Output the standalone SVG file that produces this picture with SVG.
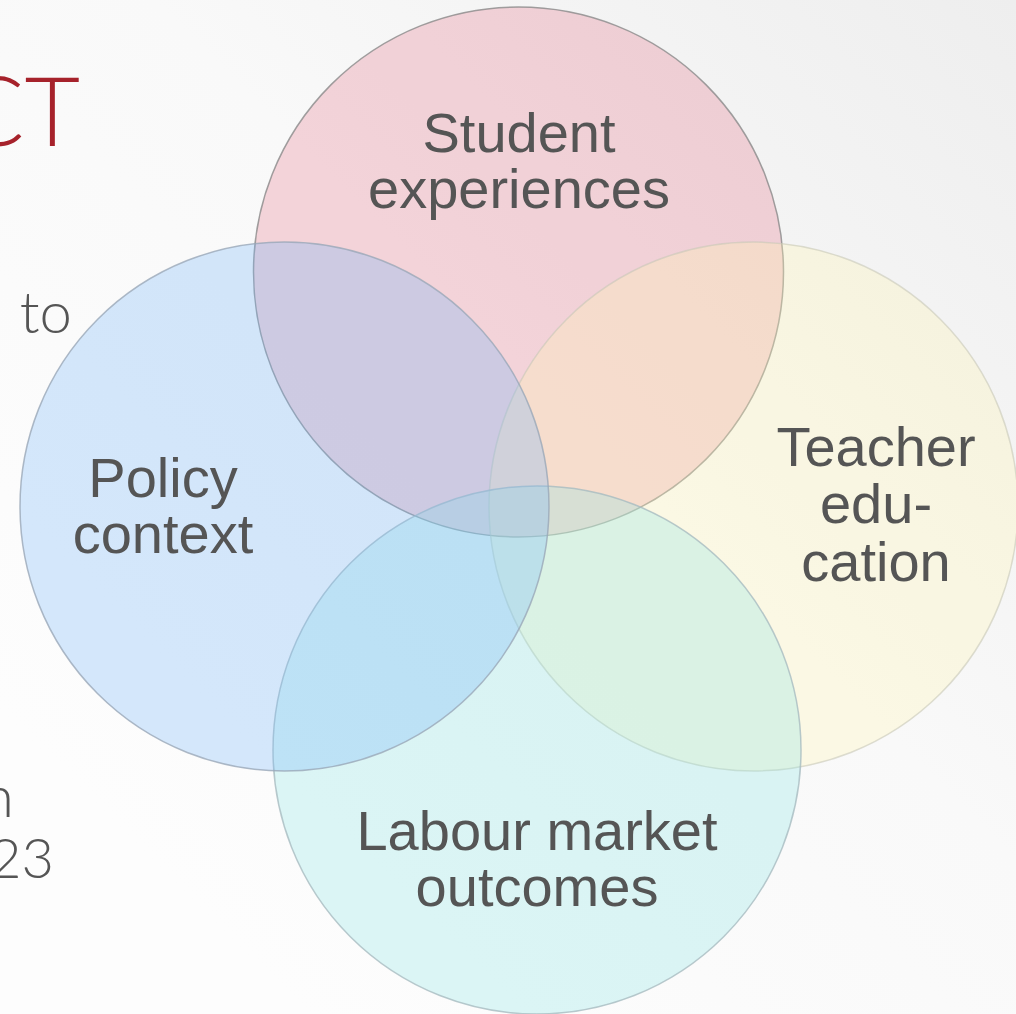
<svg xmlns="http://www.w3.org/2000/svg" width="1016" height="1014" viewBox="0 0 1016 1014">
<defs>
<linearGradient id="bg" x1="0.15" y1="0.85" x2="1" y2="0">
<stop offset="0" stop-color="#fdfdfd"/>
<stop offset="0.5" stop-color="#f9f9f9"/>
<stop offset="1" stop-color="#eeeeee"/>
</linearGradient>
<style>
.lbl{font-family:"Liberation Sans",Arial,sans-serif;font-size:56px;fill:#555555;text-anchor:middle}
.side{font-family:"Lato","Liberation Sans",sans-serif;font-weight:300;fill:#555555;text-anchor:end}
.c{stroke-width:1.5;fill-opacity:0.3}
</style>
</defs>
<rect width="1016" height="1014" fill="url(#bg)"/>
<text x="80" y="146" class="side" style="fill:#a6222b;font-size:96px">CT</text>
<text x="72" y="333" class="side" style="font-size:58px">to</text>
<text x="14" y="817" class="side" style="font-size:58px">n</text>
<text x="54" y="878" class="side" style="font-size:56px">23</text>
<g id="pink"><circle class="c" cx="518.5" cy="272" r="265" fill="#e47a8e" stroke="#8a8a8a" stroke-opacity="0.8"/></g>
<g id="yellow"><circle class="c" cx="753.5" cy="506.5" r="264.5" fill="#fff6b4" stroke="#c8c8b8" stroke-opacity="0.6"/></g>
<g id="cyan"><circle class="c" cx="537" cy="750" r="264" fill="#8fe3e6" stroke="#a8bcc0" stroke-opacity="0.8"/></g>
<g id="blue"><circle class="c" cx="284.5" cy="506.5" r="264.5" fill="#78b7fa" stroke="#9aa8b8" stroke-opacity="0.8"/></g>
<g id="labels">
<text class="lbl" x="519" y="152">Student</text>
<text class="lbl" x="519" y="208">experiences</text>
<text class="lbl" x="163" y="497">Policy</text>
<text class="lbl" x="163" y="553">context</text>
<text class="lbl" x="876" y="466">Teacher</text>
<text class="lbl" x="876" y="523">edu-</text>
<text class="lbl" x="876" y="581">cation</text>
<text class="lbl" x="537" y="850">Labour market</text>
<text class="lbl" x="537" y="906">outcomes</text>
</g>
<g id="connectors"/>
</svg>
